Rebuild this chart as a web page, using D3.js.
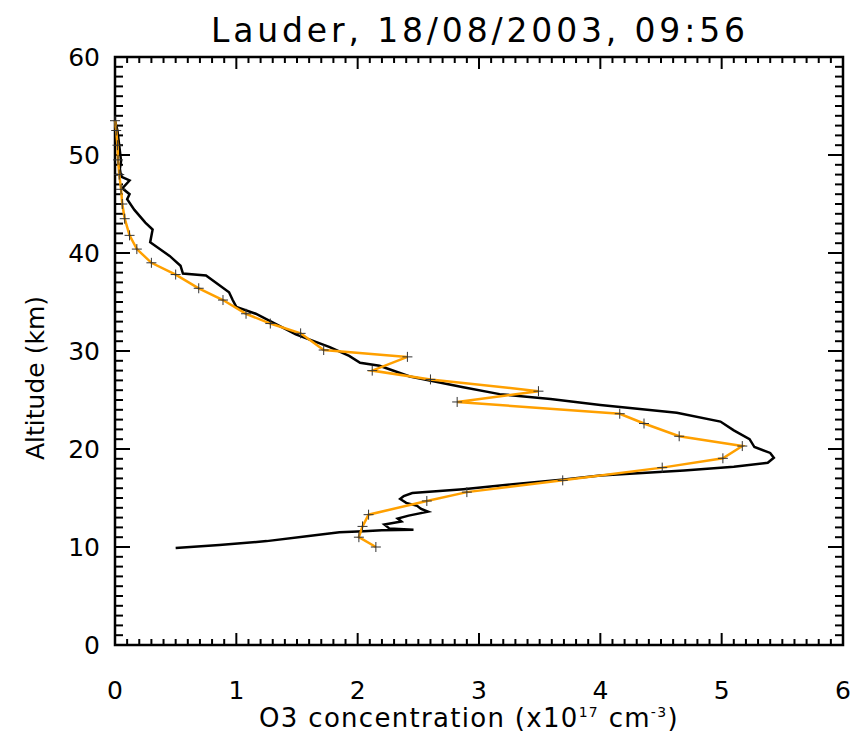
<!DOCTYPE html>
<html>
<head>
<meta charset="utf-8">
<script src="https://cdn.jsdelivr.net/npm/d3@7"></script>
<style>
body{margin:0;background:#fff;}
text{font-family:"DejaVu Sans",sans-serif;fill:#000;}
</style>
</head>
<body>
<div id="chart"></div>
<script>
var w=853, h=740;
var pad={top:57, bottom:95, left:115, right:10};

// ozonesonde profile (black), concentration x1e17 cm-3 and altitude km
var sondeConc=[0.50,0.86,1.25,1.58,1.85,2.05,2.20,2.46,2.26,2.22,2.36,2.33,2.42,2.58,2.52,2.49,2.40,2.35,2.38,2.45,2.87,3.28,3.70,4.00,4.69,5.10,5.38,5.43,5.40,5.27,5.23,5.10,4.99,4.63,4.00,3.59,3.17,2.87,2.43,2.18,2.02,1.93,1.77,1.49,1.16,1.00,0.97,0.94,0.75,0.56,0.54,0.45,0.29,0.31,0.25,0.16,0.10,0.12,0.06,0.12,0.05,0.04,0.05,0.03,0.02,0.0];
var sondeAlt=[9.9,10.2,10.6,11.1,11.5,11.6,11.7,11.75,11.9,12.3,12.6,12.9,13.2,13.6,13.9,14.2,14.5,14.9,15.2,15.5,15.9,16.4,16.9,17.3,17.8,18.2,18.6,19.1,19.6,20.2,21.0,21.9,22.8,23.7,24.5,25.1,25.6,26.3,27.4,28.5,28.8,29.5,30.4,31.7,33.8,34.5,35.2,36.0,37.7,37.9,38.7,39.7,41.1,42.4,43.1,44.4,45.5,46.0,46.6,47.4,47.8,48.6,49.4,51.5,52.5,53.5];

// retrieval profile (orange) with + markers
var retrConc=[2.15,2.01,2.04,2.09,2.57,2.90,3.69,4.51,5.01,5.17,4.65,4.36,4.16,2.82,3.49,2.60,2.12,2.41,1.72,1.53,1.28,1.08,0.89,0.69,0.50,0.30,0.18,0.12,0.08,0.06,0.05,0.035,0.025,0.02,0.01,0.0];
var retrAlt=[10.0,11.0,12.1,13.3,14.7,15.6,16.8,18.1,19.05,20.3,21.3,22.6,23.6,24.8,25.9,27.1,28.0,29.4,30.1,31.8,32.8,33.8,35.2,36.4,37.8,39.0,40.4,41.8,43.5,45.0,46.5,48.0,49.5,51.0,52.5,53.5];

var xTicks=[0,1,2,3,4,5,6];
var yTicks=[0,10,20,30,40,50,60];

var svg=d3.select("#chart").append("svg").attr("width",w).attr("height",h);

var xScale=d3.scaleLinear().domain([0,6]).range([pad.left,w-pad.right]);
var yScale=d3.scaleLinear().domain([0,60]).range([h-pad.bottom,pad.top]);

//minor + major ticks on all four sides
var xMinor=d3.range(0,60.5,1).map(function(d){return d/10;});
var yMinor=d3.range(0,61,1);
function drawTicks(g,vals,lenMaj,lenMin,horiz,side){
    g.selectAll("line").data(vals).enter().append("line")
     .each(function(d){
         var major=Math.abs(d-Math.round(horiz?d:d/10)*(horiz?1:10))<1e-6;
         var len=major?lenMaj:lenMin;
         var s=d3.select(this);
         if(horiz){
             var x=xScale(d), y0=side=="bottom"?yScale(0):yScale(60);
             s.attr("x1",x).attr("x2",x).attr("y1",y0).attr("y2",side=="bottom"?y0-len:y0+len);
         } else {
             var y=yScale(d), x0=side=="left"?xScale(0):xScale(6);
             s.attr("y1",y).attr("y2",y).attr("x1",x0).attr("x2",side=="left"?x0+len:x0-len);
         }
     })
     .attr("stroke","#000").attr("stroke-width",2);
}
drawTicks(svg.append("g"),xMinor,12,6,true,"bottom");
drawTicks(svg.append("g"),xMinor,12,6,true,"top");
drawTicks(svg.append("g"),yMinor,15,8,false,"left");
drawTicks(svg.append("g"),yMinor,15,8,false,"right");

svg.append("rect")
   .attr("x",xScale(0)).attr("y",yScale(60))
   .attr("width",xScale(6)-xScale(0)).attr("height",yScale(0)-yScale(60))
   .attr("fill","none").attr("stroke","#000").attr("stroke-width",2.5);

//tick labels
svg.selectAll(".xlab").data(xTicks).enter().append("text")
   .attr("x",function(d){return xScale(d);})
   .attr("y",h-pad.bottom+54)
   .attr("text-anchor","middle")
   .attr("font-size",25)
   .text(function(d){return d;});
svg.selectAll(".ylab").data(yTicks).enter().append("text")
   .attr("x",pad.left-15)
   .attr("y",function(d){return yScale(d);})
   .attr("dy","0.36em")
   .attr("text-anchor","end")
   .attr("font-size",25)
   .text(function(d){return d;});

//title and axis titles
svg.append("text")
   .attr("x",478).attr("y",42)
   .attr("text-anchor","middle")
   .attr("font-size",33)
   .attr("textLength",534)
   .text("Lauder, 18/08/2003, 09:56");
svg.append("text")
   .attr("transform","translate(44,378)rotate(-90)")
   .attr("text-anchor","middle")
   .attr("font-size",25)
   .text("Altitude (km)");
var xl=svg.append("text")
   .attr("x",469).attr("y",727)
   .attr("text-anchor","middle")
   .attr("font-size",26)
   .attr("letter-spacing",1.3);
xl.append("tspan").text("O3 concentration (x10");
xl.append("tspan").attr("dy",-10).attr("font-size",14).text("17");
xl.append("tspan").attr("dy",10).text(" cm");
xl.append("tspan").attr("dy",-10).attr("font-size",14).text("-3");
xl.append("tspan").attr("dy",10).text(")");

//profiles
var sonde=sondeConc.map(function(c,i){return [c,sondeAlt[i]];});
var retr=retrConc.map(function(c,i){return [c,retrAlt[i]];});
var line=d3.line()
           .x(function(d){return xScale(d[0]);})
           .y(function(d){return yScale(d[1]);});

svg.append("path").datum(sonde)
   .attr("d",line)
   .attr("fill","none").attr("stroke","#000").attr("stroke-width",2.5)
   .attr("stroke-linejoin","miter");
svg.append("path").datum(retr)
   .attr("d",line)
   .attr("fill","none").attr("stroke","#ffa000").attr("stroke-width",2.5);

var marks=svg.append("g").selectAll("g").data(retr).enter().append("g")
   .attr("transform",function(d){return "translate("+xScale(d[0])+","+yScale(d[1])+")";});
marks.append("line").attr("x1",-5).attr("x2",5).attr("y1",0).attr("y2",0)
     .attr("stroke","#333").attr("stroke-width",1);
marks.append("line").attr("x1",0).attr("x2",0).attr("y1",-5).attr("y2",5)
     .attr("stroke","#333").attr("stroke-width",1);
</script>
</body>
</html>
